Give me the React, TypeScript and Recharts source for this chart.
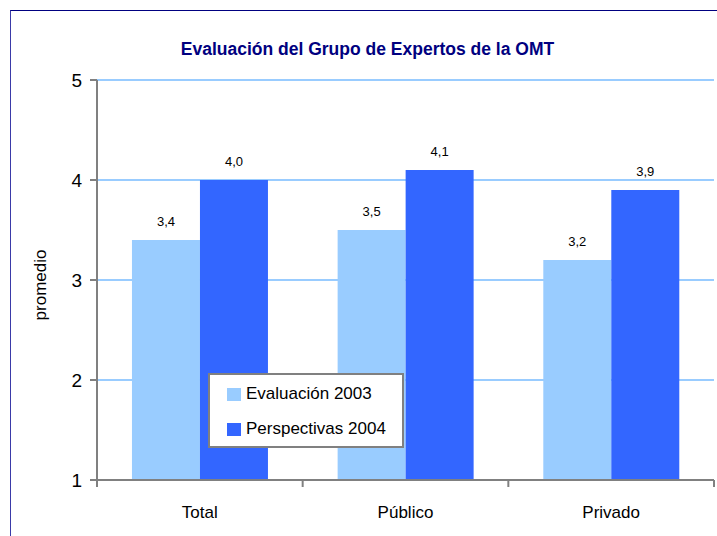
import React from 'react';
import { BarChart, Bar, XAxis, YAxis, CartesianGrid, Legend, LabelList } from 'recharts';

const categories = ['Total', 'Público', 'Privado'];
const evaluacion2003 = [3.4, 3.5, 3.2];
const perspectivas2004 = [4.0, 4.1, 3.9];
const yTicks = [1, 2, 3, 4, 5];

const data = categories.map((c, i) => ({
  name: c,
  ev: evaluacion2003[i],
  pe: perspectivas2004[i],
}));

const FONT = '"Liberation Sans", Arial, sans-serif';
const AXIS = '#808080';
const TICK_SIZE = 7;
const TICK_MARGIN = 19;

const CategoryTick = (props: any) => {
  const { x, y, payload, index, visibleTicksCount, width } = props;
  const count = visibleTicksCount || categories.length;
  const half = typeof payload?.offset === 'number' && payload.offset > 0 ? payload.offset : width / (2 * count);
  const axisY = y - TICK_SIZE - TICK_MARGIN;
  return (
    <g>
      <line x1={x - half} x2={x - half} y1={axisY} y2={axisY + TICK_SIZE} stroke={AXIS} strokeWidth={2} />
      {index === count - 1 && (
        <line x1={x + half} x2={x + half} y1={axisY} y2={axisY + TICK_SIZE} stroke={AXIS} strokeWidth={2} />
      )}
      <text x={x} y={y} dy="0.71em" textAnchor="middle" fontSize={17} fill="#000" fontFamily={FONT}>
        {payload.value}
      </text>
    </g>
  );
};

const YLabel = (props: any) => {
  const vb = props.viewBox || { x: 0, y: 80, width: 97, height: 400 };
  const cx = vb.x + 40;
  const cy = vb.y + vb.height / 2 + 5;
  return (
    <text
      x={cx}
      y={cy}
      transform={`rotate(-90 ${cx} ${cy})`}
      textAnchor="middle"
      dominantBaseline="central"
      fontSize={17}
      fill="#000"
      fontFamily={FONT}
    >
      promedio
    </text>
  );
};

const LegendBox = (props: any) => {
  const items = props.payload || [];
  return (
    <div
      style={{
        boxSizing: 'border-box',
        width: 196,
        height: 75,
        border: `2px solid ${AXIS}`,
        background: '#fff',
        position: 'relative',
        fontFamily: FONT,
        fontSize: 17,
        color: '#000',
      }}
    >
      {items.map((it: any, i: number) => (
        <div
          key={i}
          style={{
            position: 'absolute',
            left: 17,
            top: 17 + i * 35 - 8,
            height: 20,
            display: 'flex',
            alignItems: 'center',
            whiteSpace: 'nowrap',
          }}
        >
          <span style={{ display: 'inline-block', width: 14, height: 13, background: it.color, marginRight: 5 }} />
          <span>{it.value}</span>
        </div>
      ))}
    </div>
  );
};

const fmt = (v: any) => Number(v).toFixed(1).replace('.', ',');

export default function App() {
  return (
    <div style={{ position: 'absolute', left: 0, top: 0, width: 717, height: 536, background: '#fff', overflow: 'hidden' }}>
      <div
        style={{
          position: 'absolute',
          left: 10,
          top: 10,
          width: 760,
          height: 600,
          borderTop: '1px solid #000080',
          borderLeft: '1px solid #3a3aa8',
          pointerEvents: 'none',
        }}
      />
      <div
        style={{
          position: 'absolute',
          left: 0,
          width: 735,
          top: 39,
          textAlign: 'center',
          fontFamily: FONT,
          fontWeight: 'bold',
          fontSize: 17.5,
          color: '#000080',
          lineHeight: '20px',
          whiteSpace: 'nowrap',
        }}
      >
        Evaluación del Grupo de Expertos de la OMT
      </div>
      <BarChart
        width={717}
        height={536}
        data={data}
        margin={{ top: 80, right: 3, bottom: 0, left: 0 }}
        barCategoryGap="17%"
        barGap={0}
        style={{ position: 'absolute', left: 0, top: 0 }}
      >
        <CartesianGrid horizontal vertical={false} stroke="#99CCFF" strokeWidth={2} />
        <XAxis
          dataKey="name"
          height={56}
          tickLine={false}
          tickSize={TICK_SIZE}
          tickMargin={TICK_MARGIN}
          axisLine={{ stroke: AXIS, strokeWidth: 2 }}
          tick={<CategoryTick />}
          interval={0}
        />
        <YAxis
          width={97}
          domain={[1, 5]}
          ticks={yTicks}
          type="number"
          allowDataOverflow
          tickSize={TICK_SIZE}
          tickMargin={8}
          tickLine={{ stroke: AXIS, strokeWidth: 2 }}
          axisLine={{ stroke: AXIS, strokeWidth: 2 }}
          tick={{ fontSize: 19, fill: '#000', fontFamily: FONT }}
          label={<YLabel />}
        />
        <Legend
          layout="horizontal"
          verticalAlign="middle"
          align="center"
          content={<LegendBox />}
          wrapperStyle={{ position: 'absolute', left: 208, top: 373, width: 196, height: 75 }}
        />
        <Bar dataKey="ev" name="Evaluación 2003" fill="#99CCFF" isAnimationActive={false}>
          <LabelList dataKey="ev" position="top" offset={14} formatter={fmt} fontSize={13} fill="#000" fontFamily={FONT} />
        </Bar>
        <Bar dataKey="pe" name="Perspectivas 2004" fill="#3366FF" isAnimationActive={false}>
          <LabelList dataKey="pe" position="top" offset={14} formatter={fmt} fontSize={13} fill="#000" fontFamily={FONT} />
        </Bar>
      </BarChart>
    </div>
  );
}
